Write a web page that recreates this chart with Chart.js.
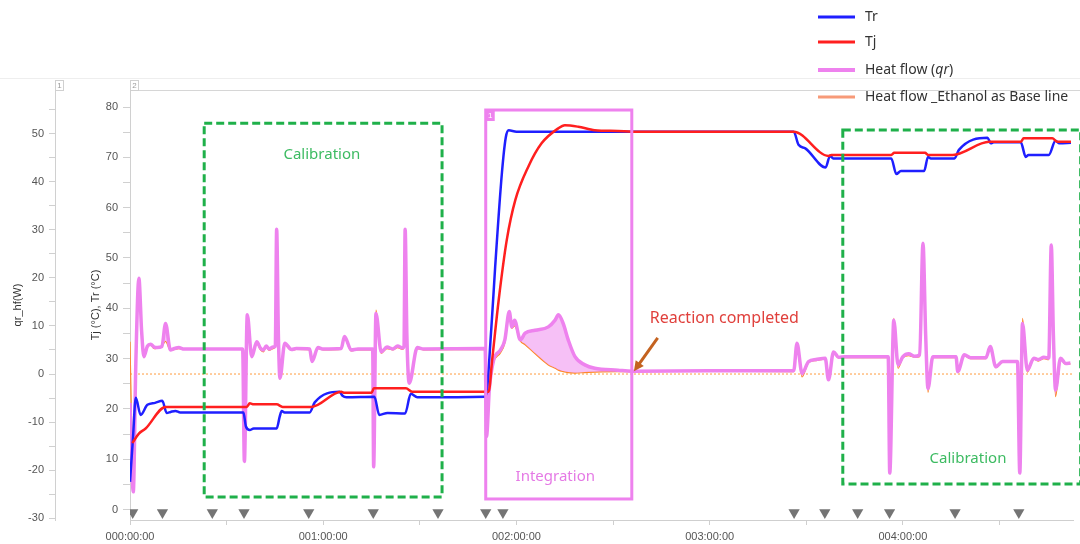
<!DOCTYPE html>
<html>
<head>
<meta charset="utf-8">
<script src="https://cdn.jsdelivr.net/npm/chart.js@4.4.1/dist/chart.umd.min.js"></script>
<style>
  html, body { margin: 0; padding: 0; background: #fff; }
  canvas { display: block; }
</style>
</head>
<body>
<canvas id="c" width="1080" height="544"></canvas>
<script>
// Time axis is in hours from the start of the run.

// Reactor temperature Tr (°C)
const trTime = [0, 0.015, 0.03, 0.055, 0.09, 0.13, 0.167, 0.19, 0.21, 0.235,
  0.26, 0.587, 0.60, 0.62, 0.64, 0.759, 0.775, 0.785, 0.80, 0.93,
  0.956, 1.084, 1.10, 1.12, 1.265, 1.29, 1.333, 1.424, 1.453, 1.487,
  1.84, 1.87, 1.89, 1.925, 1.945, 1.96, 2.0, 3.435, 3.46, 3.495,
  3.60, 3.623, 3.64, 3.94, 3.966, 3.99, 4.11, 4.13, 4.145, 4.267,
  4.29, 4.438, 4.455, 4.47, 4.61, 4.636, 4.65, 4.755, 4.79, 4.81,
  4.87];
const trTemp = [5.5, 14, 22.2, 18.8, 20.8, 21.2, 21.6, 19.2, 19.4, 19.6,
  19.3, 19.3, 16.5, 15.8, 16.1, 16.1, 18.5, 19.6, 19.3, 19.3,
  21.3, 23.4, 22.6, 22.3, 22.4, 18.8, 19.2, 19.1, 23.0, 22.3,
  22.4, 36, 48.3, 67, 74, 75.4, 75.1, 75.1, 72.5, 71.8,
  68.0, 70.3, 69.8, 69.8, 66.7, 67.3, 67.3, 70.1, 69.8, 69.8,
  71.5, 73.9, 72.8, 73.0, 73.0, 70.1, 70.5, 70.5, 73.3, 72.8,
  72.9];

// Jacket temperature Tj (°C)
const tjTime = [0.012, 0.046, 0.081, 0.184, 0.604, 0.62, 0.64, 0.759, 0.79, 0.939,
  1.093, 1.11, 1.25, 1.262, 1.428, 1.46, 1.856, 1.875, 1.908, 1.95,
  1.994, 2.062, 2.13, 2.217, 2.25, 2.32, 2.405, 2.525, 2.6, 3.435,
  3.615, 3.63, 3.94, 3.955, 4.115, 4.13, 4.258, 4.447, 4.61, 4.625,
  4.773, 4.80, 4.87];
const tjTemp = [13.2, 15.1, 16.1, 20.4, 20.4, 21.1, 20.9, 20.9, 20.4, 20.4,
  23.4, 23.2, 23.2, 24.1, 24.1, 23.4, 23.4, 30, 41.6, 53.6,
  61.5, 68.2, 72.8, 75.8, 76.4, 76.1, 75.4, 75.25, 75.1, 75.1,
  70.3, 70.5, 70.5, 70.9, 70.9, 70.5, 70.5, 73.1, 73.1, 73.8,
  73.8, 73.1, 73.1];

// Heat flow (W): measured qr and the ethanol base line share one time base
const hfTime = [
  0.000, 0.004, 0.017, 0.030, 0.046, 0.060, 0.072, 0.090, 0.107, 0.125,
  0.141, 0.165, 0.184, 0.209, 0.230, 0.252, 0.280, 0.583, 0.592, 0.607,
  0.630, 0.656, 0.675, 0.690, 0.705, 0.720, 0.741, 0.752, 0.759, 0.768,
  0.776, 0.801, 0.836, 0.860, 0.930, 0.942, 0.973, 1.000, 1.093, 1.110,
  1.145, 1.180, 1.256, 1.261, 1.273, 1.300, 1.330, 1.360, 1.385, 1.410,
  1.418, 1.424, 1.433, 1.445, 1.487, 1.520, 1.838, 1.845, 1.860, 1.882,
  1.917, 1.940, 1.963, 1.976, 1.990, 2.020, 2.045, 2.097, 2.165, 2.200,
  2.217, 2.242, 2.268, 2.303, 2.354, 2.405, 2.525, 2.600, 3.000, 3.435,
  3.452, 3.478, 3.512, 3.550, 3.598, 3.615, 3.641, 3.667, 3.700, 3.924,
  3.932, 3.953, 3.975, 4.000, 4.030, 4.060, 4.087, 4.104, 4.118, 4.130,
  4.155, 4.275, 4.284, 4.318, 4.350, 4.430, 4.452, 4.481, 4.516, 4.593,
  4.605, 4.619, 4.644, 4.678, 4.700, 4.730, 4.755, 4.768, 4.779, 4.790,
  4.816, 4.842, 4.867];
const hfQr = [
  -6, -12, -24.5, 2, 19.9, 9, 3.6, 5.8, 6.2, 5.6,
  5.5, 5.7, 10.5, 5.0, 5.3, 5.5, 5.2, 5.2, -18.2, 12.3,
  3.6, 6.7, 5.4, 5.0, 5.8, 5.2, 5.6, 5.8, 30.1, 8,
  -0.9, 6.4, 5.1, 5.3, 5.2, 2.6, 5.5, 5.2, 5.3, 7.8,
  5.0, 5.2, 5.2, -19.3, 12.6, 4.6, 5.6, 5.2, 5.8, 5.4,
  5.8, 30.1, 8, -1.9, 5.5, 5.2, 5.3, -13, -3, 2.9,
  5.0, 7.1, 13.0, 9.8, 11.2, 7.1, 8.5, 9.1, 9.8, 11.2,
  12.3, 10.5, 7.1, 3.6, 1.9, 1.2, 0.8, 0.6, 0.7, 0.7,
  6.4, 0.15, 2.6, 3.0, 3.3, -1.2, 4.6, 3.5, 3.6, 3.6,
  -20.6, 11.2, 1.9, 3.6, 4.2, 3.7, 4.0, 27.2, 8, -3.0,
  3.6, 3.6, 0.5, 4.0, 3.4, 3.4, 5.7, 1.5, 2.6, 2.6,
  -20.6, 10.5, 0.8, 3.3, 3.0, 3.5, 3.3, 26.8, 8, -3.3,
  3.3, 2.2, 2.3];
const hfBase = [
  6.7, -1.6, -20, 3, 19, 8, 3.4, 5.5, 6.0, 5.3,
  5.4, 5.8, 6.8, 4.9, 5.1, 5.3, 5.1, 5.1, -17.5, 11.5,
  3.8, 6.4, 5.0, 4.6, 5.6, 4.9, 5.3, 5.6, 29.5, 7.5,
  -0.7, 6.0, 4.9, 5.1, 5.0, 2.8, 5.3, 5.0, 5.1, 7.4,
  4.8, 5.0, 5.0, -18.5, 13.3, 4.3, 5.3, 5.0, 5.5, 5.1,
  5.5, 29.8, 7, -1.6, 5.3, 5.0, 5.1, -12, -2, 2.5,
  4.4, 6.5, 12.6, 9.5, 10, 6.9, 6.1, 4.2, 1.9, 1.2,
  0.8, 0.5, 0.3, 0.2, 0.3, 0.4, 0.5, 0.5, 0.6, 0.5,
  5.8, -0.6, 2.4, 2.8, 3.1, -1.0, 4.3, 3.3, 3.4, 3.4,
  -19.5, 11.6, 1.2, 3.4, 3.8, 3.5, 3.6, 26.5, 7, -3.8,
  3.4, 3.4, 0.3, 3.8, 3.2, 3.2, 5.3, 1.3, 2.4, 2.4,
  -19.5, 11.6, 0.4, 3.1, 2.7, 3.2, 3.0, 26.0, 7, -4.7,
  3.0, 2.0, 2.1];

// Zero heat-flow reference
const zeroLineTime = [0, 4.883];
const zeroLineQr = [0, 0];

// Event markers along the time axis (hours)
const eventTimes = [0.014, 0.168, 0.426, 0.59, 0.925, 1.259, 1.594, 1.841, 1.93,
  3.437, 3.596, 3.766, 3.931, 4.27, 4.6];

const pts = (xs, ys) => xs.map((x, i) => ({ x, y: ys[i] }));
const hms = h => String(Math.floor(h)).padStart(3, '0') + ':00:00';
const tickFont = { family: 'Liberation Sans, Arial, sans-serif', size: 11 };
const labelFont = 'Noto Sans, Open Sans, sans-serif';

// Frames, notes and arrow drawn over the data, in data units
const overlay = {
  id: 'overlay',
  afterDatasetsDraw(chart, args, o) {
    const { ctx } = chart;
    const xs = chart.scales.x, ys = chart.scales.yT;
    const px = v => xs.getPixelForValue(v), py = v => ys.getPixelForValue(v);
    ctx.save();
    o.frames.forEach(f => {
      ctx.setLineDash(f.dash || []);
      ctx.lineWidth = f.width;
      ctx.strokeStyle = f.color;
      ctx.strokeRect(px(f.x0), py(f.y1), px(f.x1) - px(f.x0), py(f.y0) - py(f.y1));
      if (f.tag) {
        ctx.setLineDash([]);
        ctx.fillStyle = f.color;
        ctx.fillRect(px(f.x0), py(f.y1), 9, 11);
        ctx.fillStyle = '#fff';
        ctx.font = '8px ' + tickFont.family;
        ctx.textAlign = 'center';
        ctx.textBaseline = 'middle';
        ctx.fillText(f.tag, px(f.x0) + 4.5, py(f.y1) + 6);
      }
    });
    ctx.setLineDash([]);
    o.notes.forEach(n => {
      ctx.font = n.size + 'px ' + labelFont;
      ctx.fillStyle = n.color;
      ctx.textAlign = 'center';
      ctx.textBaseline = 'middle';
      ctx.fillText(n.text, px(n.x), py(n.y));
    });
    const a = o.arrow;
    const x1 = px(a.from[0]), y1 = py(a.from[1]), x2 = px(a.to[0]), y2 = py(a.to[1]);
    const ang = Math.atan2(y2 - y1, x2 - x1);
    ctx.strokeStyle = a.color;
    ctx.fillStyle = a.color;
    ctx.lineWidth = a.width;
    ctx.beginPath();
    ctx.moveTo(x1, y1);
    ctx.lineTo(x2 - 6 * Math.cos(ang), y2 - 6 * Math.sin(ang));
    ctx.stroke();
    ctx.beginPath();
    ctx.moveTo(x2, y2);
    ctx.lineTo(x2 - 10 * Math.cos(ang) + 5 * Math.sin(ang), y2 - 10 * Math.sin(ang) - 5 * Math.cos(ang));
    ctx.lineTo(x2 - 10 * Math.cos(ang) - 5 * Math.sin(ang), y2 - 10 * Math.sin(ang) + 5 * Math.cos(ang));
    ctx.closePath();
    ctx.fill();
    ctx.restore();
  },
  afterDraw(chart, args, o) {
    const { ctx, chartArea } = chart;
    ctx.save();
    // panel separators
    ctx.strokeStyle = '#eeeeee';
    ctx.lineWidth = 1;
    ctx.beginPath();
    ctx.moveTo(0, 78.5); ctx.lineTo(chart.width, 78.5);
    ctx.stroke();
    ctx.strokeStyle = '#d6d6d6';
    ctx.beginPath();
    ctx.moveTo(chartArea.left, chartArea.top + 0.5); ctx.lineTo(chart.width, chartArea.top + 0.5);
    ctx.stroke();
    // numbered axis tabs
    [['yq', '1'], ['yT', '2']].forEach(([id, n]) => {
      const s = chart.scales[id];
      const x = Math.round(s.right) + 0.5;
      ctx.strokeStyle = '#d0d0d0';
      ctx.strokeRect(x, 80.5, 8, 10);
      ctx.fillStyle = '#9a9a9a';
      ctx.font = '8px ' + tickFont.family;
      ctx.textAlign = 'center';
      ctx.textBaseline = 'middle';
      ctx.fillText(n, x + 4, 86);
    });
    // legend
    const L = o.legend;
    L.rows.forEach((r, i) => {
      const ds = chart.data.datasets[i];
      ctx.strokeStyle = r.swatch || ds.borderColor;
      ctx.lineWidth = r.lw;
      ctx.beginPath();
      ctx.moveTo(L.x0, r.y); ctx.lineTo(L.x1, r.y);
      ctx.stroke();
      ctx.fillStyle = '#333';
      ctx.textAlign = 'left';
      ctx.textBaseline = 'middle';
      ctx.font = L.size + 'px ' + labelFont;
      if (r.italic) {
        let x = L.tx;
        r.italic.forEach(([txt, it]) => {
          ctx.font = (it ? 'italic ' : '') + L.size + 'px ' + labelFont;
          ctx.fillText(txt, x, r.y);
          x += ctx.measureText(txt).width;
        });
      } else {
        ctx.fillText(ds.label, L.tx, r.y);
      }
    });
    ctx.restore();
  }
};

new Chart(document.getElementById('c'), {
  type: 'line',
  data: {
    datasets: [
      { label: 'Tr', data: pts(trTime, trTemp), yAxisID: 'yT',
        borderColor: '#1f1fff', borderWidth: 2.5, order: 2 },
      { label: 'Tj', data: pts(tjTime, tjTemp), yAxisID: 'yT',
        borderColor: '#ff1f1f', borderWidth: 2.5, order: 1 },
      { label: 'Heat flow (qr)', data: pts(hfTime, hfQr), yAxisID: 'yq',
        borderColor: '#ee82ee', borderWidth: 3.5, order: 3,
        fill: { target: 3, above: 'rgba(238,130,238,0.5)', below: 'rgba(0,0,0,0)' } },
      { label: 'Heat flow _Ethanol as Base line', data: pts(hfTime, hfBase), yAxisID: 'yq',
        borderColor: '#ff8a1c', borderWidth: 1.2, order: 4 },
      { label: 'zero', data: pts(zeroLineTime, zeroLineQr), yAxisID: 'yq',
        borderColor: '#ff9a3c', borderWidth: 1, borderDash: [2, 2], order: 5 },
      { label: 'events', data: eventTimes.map(t => ({ x: t, y: -0.6 })), yAxisID: 'yT',
        showLine: false, pointStyle: 'triangle', pointRotation: 180, pointRadius: 6.5,
        pointHoverRadius: 6.5, pointBackgroundColor: '#747474', pointBorderWidth: 0, order: 0 }
    ]
  },
  options: {
    responsive: false,
    animation: false,
    devicePixelRatio: 1,
    layout: { padding: { top: 90, right: 2, left: 0, bottom: 0 } },
    elements: {
      point: { radius: 0 },
      line: { cubicInterpolationMode: 'monotone' }
    },
    plugins: {
      legend: { display: false },
      tooltip: { enabled: false },
      overlay: {
        frames: [
          { x0: 0.384, x1: 1.615, y0: 2.5, y1: 76.8, color: '#1fb04a', width: 3, dash: [8, 4] },
          { x0: 3.689, x1: 4.92, y0: 5.07, y1: 75.45, color: '#1fb04a', width: 3, dash: [8, 4] },
          { x0: 1.841, x1: 2.597, y0: 2.09, y1: 79.42, color: '#ee82ee', width: 3, tag: '1' }
        ],
        notes: [
          { text: 'Calibration', x: 0.993, y: 70.5, color: '#3dbb62', size: 15 },
          { text: 'Calibration', x: 4.337, y: 10.0, color: '#3dbb62', size: 15 },
          { text: 'Integration', x: 2.201, y: 6.46, color: '#e57ae5', size: 15 },
          { text: 'Reaction completed', x: 3.076, y: 37.9, color: '#e0403c', size: 16 }
        ],
        arrow: { from: [2.731, 34.1], to: [2.608, 27.5], color: '#c4621f', width: 3 },
        legend: {
          x0: 818, x1: 855, tx: 865, size: 14,
          rows: [
            { y: 17, lw: 3 },
            { y: 42, lw: 3 },
            { y: 70, lw: 4, italic: [['Heat flow (', false], ['qr', true], [')', false]] },
            { y: 97, lw: 3, swatch: '#f79a78' }
          ]
        }
      }
    },
    scales: {
      x: {
        type: 'linear', min: 0, max: 4.883,
        ticks: {
          stepSize: 0.5, includeBounds: false, autoSkip: false, maxRotation: 0,
          callback: v => Number.isInteger(v) ? hms(v) : '',
          font: tickFont, color: '#555', padding: 5
        },
        grid: { drawOnChartArea: false, tickLength: 5, color: '#cfcfcf' },
        border: { color: '#cfcfcf' },
        afterFit: s => { s.height = 24; }
      },
      yq: {
        position: 'left', weight: 2, min: -30.35, max: 59.05,
        ticks: {
          stepSize: 5, includeBounds: false,
          callback: v => v % 10 === 0 ? v : '',
          font: tickFont, color: '#555', padding: 5
        },
        grid: { drawOnChartArea: false, tickLength: 6, color: '#d0d0d0' },
        border: { color: '#d0d0d0' },
        title: { display: true, text: 'qr_hf(W)', font: tickFont, color: '#333', padding: { top: 11, bottom: 0 } },
        afterFit: s => { s.width = 55; }
      },
      yT: {
        position: 'left', weight: 1, min: -2.09, max: 83.4,
        ticks: {
          stepSize: 5, includeBounds: false,
          callback: v => v % 10 === 0 ? v : '',
          font: tickFont, color: '#555', padding: 5
        },
        grid: { drawOnChartArea: false, tickLength: 7, color: '#d0d0d0' },
        border: { color: '#d0d0d0' },
        title: { display: true, text: 'Tj (°C), Tr (°C)', font: tickFont, color: '#333', padding: { top: 34, bottom: 0 } },
        afterFit: s => { s.width = 75; }
      }
    }
  },
  plugins: [overlay]
});
</script>
</body>
</html>
